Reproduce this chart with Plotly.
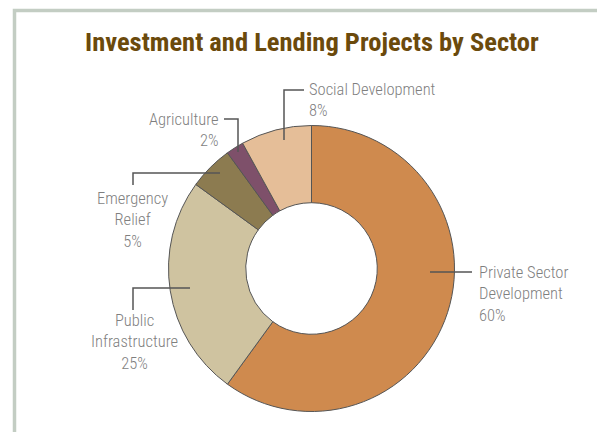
import plotly.graph_objects as go

# ---- data ----
sectors = ["Private Sector Development", "Public Infrastructure", "Emergency Relief",
           "Agriculture", "Social Development"]
label_text = ["Private Sector<br>Development", "Public<br>Infrastructure", "Emergency<br>Relief",
              "Agriculture", "Social Development"]
shares = [60, 25, 5, 2, 8]
title_text = "Investment and Lending Projects by Sector"

# ---- style ----
colors = ["#CF8A4E", "#CFC3A0", "#8C7B50", "#7E506A", "#E5BE98"]
W, H = 605, 432
OFF = 8  # page body margin: figure origin sits 8px in from the window corner
cx, cy, R = 311.5 - OFF, 268.5 - OFF, 143.0
LABEL_FONT = "Roboto Condensed, DejaVu Sans Condensed, sans-serif"
LABEL_COLOR = "#7F7F7F"
LINE_COLOR = "#555555"

fig = go.Figure()
fig.add_trace(go.Pie(
    labels=sectors, values=shares, sort=False, direction="clockwise", rotation=0,
    hole=0.46, textinfo="none", hoverinfo="label+percent",
    marker=dict(colors=colors, line=dict(color="#555555", width=1)),
    domain=dict(x=[(cx - R) / W, (cx + R) / W],
                y=[(H - cy - R) / H, (H - cy + R) / H]),
    showlegend=False,
))

# label layout in window px: (leader polyline, text x, text y(middle), xanchor, align)
label_layout = {
    "Private Sector Development": ([(430, 272), (472, 272)], 477, 293.5, "left", "left"),
    "Public Infrastructure": ([(133, 310), (133, 288), (190, 288)], 134, 342, "center", "center"),
    "Emergency Relief": ([(133, 185), (133, 173), (220, 173)], 132, 220, "center", "center"),
    "Agriculture": ([(224, 119), (238, 119), (238, 152)], 221, 130, "right", "right"),
    "Social Development": ([(284, 140), (284, 90), (304, 90)], 307, 100, "left", "left"),
}

shapes = []
annotations = []
for name, txt, val in zip(sectors, label_text, shares):
    pts, tx, ty, xa, al = label_layout[name]
    path = "M " + " L ".join(f"{x - OFF},{y - OFF}" for x, y in pts)
    shapes.append(dict(type="path", path=path, xref="x", yref="y",
                       line=dict(color=LINE_COLOR, width=1.5)))
    annotations.append(dict(x=tx - OFF, y=ty - OFF, xref="x", yref="y", text=f"{txt}<br>{val}%",
                            showarrow=False, xanchor=xa, yanchor="middle", align=al,
                            font=dict(family=LABEL_FONT, size=16.5, color=LABEL_COLOR, weight=300)))

# frame (top and left edges visible)
shapes.append(dict(type="rect", xref="x", yref="y", x0=14.5 - OFF, y0=10.5 - OFF, x1=W + 20, y1=H + 20,
                   line=dict(color="#C3CDC3", width=3.5), layer="below"))

annotations.append(dict(x=311.5 - OFF, y=41.5 - OFF, xref="x", yref="y", text=f"<b>{title_text}</b>",
                        showarrow=False, xanchor="center", yanchor="middle",
                        font=dict(family=LABEL_FONT, size=26.5, color="#6B4A0C")))

fig.update_layout(
    width=W, height=H, margin=dict(l=0, r=0, t=0, b=0),
    paper_bgcolor="white", plot_bgcolor="rgba(0,0,0,0)",
    xaxis=dict(range=[0, W], visible=False, fixedrange=True),
    yaxis=dict(range=[H, 0], visible=False, fixedrange=True),
    shapes=shapes, annotations=annotations,
)

fig.write_html("out.html")
